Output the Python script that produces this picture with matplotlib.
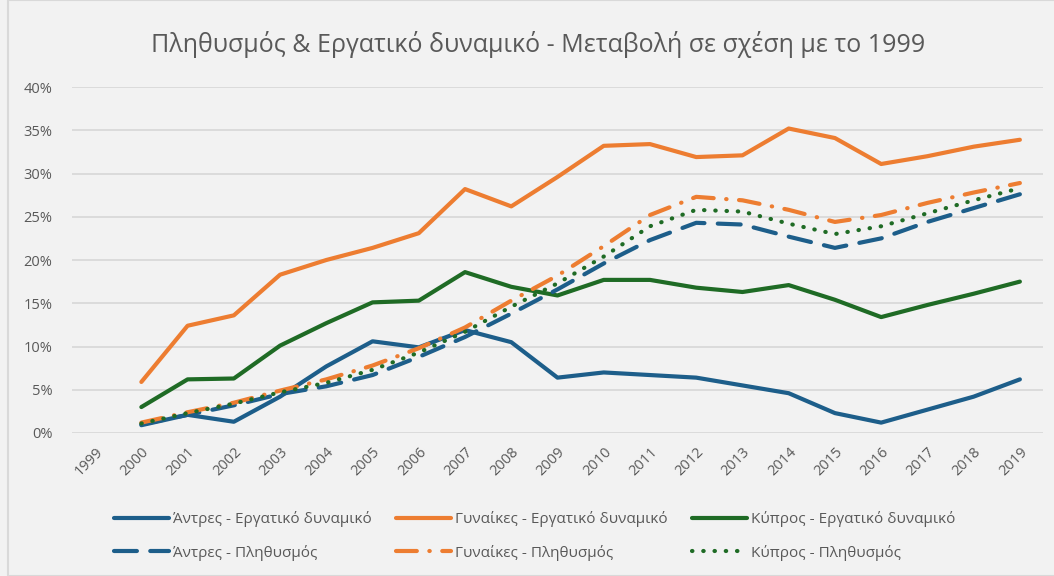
import matplotlib
matplotlib.use("Agg")
import matplotlib.pyplot as plt
from matplotlib.ticker import FuncFormatter, MultipleLocator
from matplotlib.patches import Rectangle

plt.rcParams['font.family'] = ['Open Sans', 'DejaVu Sans']

years = [str(y) for y in range(1999, 2020)]

men_labour = [None, 0.9, 2.1, 1.3, 4.2, 7.7, 10.6, 9.9, 11.9, 10.5, 6.4, 7.0, 6.7, 6.4, 5.5, 4.6, 2.3, 1.2, 2.7, 4.2, 6.2]
women_labour = [None, 5.9, 12.4, 13.6, 18.3, 20.0, 21.4, 23.1, 28.2, 26.2, 29.6, 33.2, 33.4, 31.9, 32.1, 35.2, 34.1, 31.1, 32.0, 33.1, 33.9]
cyprus_labour = [None, 3.0, 6.2, 6.3, 10.1, 12.7, 15.1, 15.3, 18.6, 16.9, 15.9, 17.7, 17.7, 16.8, 16.3, 17.1, 15.4, 13.4, 14.8, 16.1, 17.5]
men_pop = [None, 1.0, 2.1, 3.2, 4.5, 5.4, 6.7, 8.8, 11.1, 13.8, 16.6, 19.6, 22.3, 24.3, 24.1, 22.7, 21.4, 22.5, 24.4, 26.0, 27.6]
women_pop = [None, 1.2, 2.4, 3.5, 4.9, 6.2, 7.8, 9.8, 12.2, 15.3, 18.2, 21.6, 25.2, 27.3, 26.9, 25.8, 24.4, 25.2, 26.6, 27.8, 28.9]
cyprus_pop = [None, 1.1, 2.3, 3.4, 4.7, 5.8, 7.3, 9.3, 11.7, 14.6, 17.3, 20.4, 23.9, 25.8, 25.6, 24.2, 23.0, 23.9, 25.4, 26.9, 28.3]

labels = ["Άντρες - Εργατικό δυναμικό", "Γυναίκες - Εργατικό δυναμικό", "Κύπρος - Εργατικό δυναμικό",
          "Άντρες - Πληθυσμός", "Γυναίκες - Πληθυσμός", "Κύπρος - Πληθυσμός"]
title = "Πληθυσμός & Εργατικό δυναμικό - Μεταβολή σε σχέση με το 1999"

BLUE = "#1D5E8A"
ORANGE = "#ED7D31"
GREEN = "#1F6B25"
BG = "#F2F2F2"
TXT = "#595959"

fig = plt.figure(figsize=(10.54, 5.76), dpi=100, facecolor=BG)
fig.patches.append(Rectangle((8/1054, 0), 1.0, 1.0, transform=fig.transFigure,
                             facecolor='none', edgecolor='#D9D9D9', lw=1.5))
ax = fig.add_axes([72/1054, (576-433)/576, 971/1054, 346/576], facecolor=BG)

x = list(range(len(years)))

def clean(vals):
    return [float('nan') if v is None else v for v in vals]

lw = 3.0
h1, = ax.plot(x, clean(men_labour), color=BLUE, lw=lw, solid_capstyle='round', solid_joinstyle='round')
h2, = ax.plot(x, clean(women_labour), color=ORANGE, lw=lw, solid_capstyle='round', solid_joinstyle='round')
h3, = ax.plot(x, clean(cyprus_labour), color=GREEN, lw=lw, solid_capstyle='round', solid_joinstyle='round')
h4, = ax.plot(x, clean(men_pop), color=BLUE, lw=lw, dashes=(5.5, 3.2), dash_capstyle='round')
h5, = ax.plot(x, clean(women_pop), color=ORANGE, lw=lw, dashes=(5.0, 3.0, 0.1, 3.0), dash_capstyle='round')
h6, = ax.plot(x, clean(cyprus_pop), color=GREEN, lw=lw, dashes=(0.1, 2.6), dash_capstyle='round')

ax.set_xlim(-0.5, len(years) - 0.5)
ax.set_ylim(0, 40)
ax.yaxis.set_major_locator(MultipleLocator(5))
ax.yaxis.set_major_formatter(FuncFormatter(lambda v, p: f"{v:.0f}%"))
ax.grid(axis='y', color='#D9D9D9', lw=1.3)
ax.set_axisbelow(True)
for s in ax.spines.values():
    s.set_visible(False)
ax.tick_params(axis='both', length=0, colors=TXT, labelsize=10.5)
ax.tick_params(axis='y', pad=14)
ax.set_xticks(x)
ax.set_xticklabels(years, rotation=45, ha='right', va='top', rotation_mode='anchor')
ax.tick_params(axis='x', pad=8)

fig.text(538/1054, 1 - 45/576, title, ha='center', va='center', fontsize=18, color=TXT)

handles = [h1, h4, h2, h5, h3, h6]
hl = [labels[0], labels[3], labels[1], labels[4], labels[2], labels[5]]
fig.legend(handles, hl, ncol=3, loc='center', bbox_to_anchor=(535/1054, 1 - 536/576), frameon=False,
           fontsize=11, labelcolor=TXT, handlelength=3.6, columnspacing=1.6, handletextpad=0.25,
           labelspacing=1.15)

fig.savefig("out.png", dpi=100, facecolor=BG)
